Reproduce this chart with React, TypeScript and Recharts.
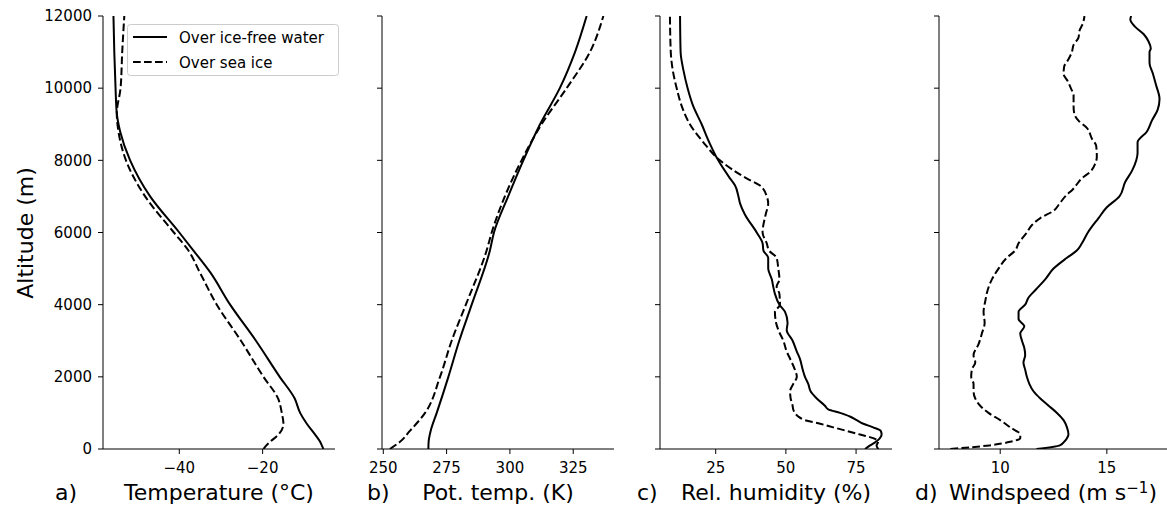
import React from "react";
import { LineChart, Line, XAxis, YAxis } from "recharts";

// altitude ticks shared by all panels
const altTicks = [0, 2000, 4000, 6000, 8000, 10000, 12000];

// a) temperature (°C)
const tempAlt = [0, 100, 200, 400, 700, 1000, 1400, 2000, 3000, 4000, 4900, 5500, 6000, 7000, 8000, 8800, 9300, 10000, 11000, 12000];
const tempWater = [-5.4, -5.8, -6.2, -7.4, -9.4, -11.0, -12.3, -15.9, -21.6, -27.8, -32.6, -36.6, -40.0, -47.0, -51.8, -54.2, -55.0, -55.3, -55.6, -55.8];
const tempIce = [-19.8, -19.1, -18.2, -16.2, -15.0, -15.4, -16.3, -19.8, -25.2, -31.0, -35.1, -37.8, -41.3, -48.2, -52.8, -54.6, -55.0, -54.1, -53.7, -53.2];

// b) potential temperature (K)
const thetaAlt = [0, 200, 500, 1000, 2000, 3000, 4000, 5500, 6000, 7000, 8000, 9000, 10000, 11000, 12000];
const thetaWater = [267.8, 267.9, 268.7, 271.1, 275.7, 280.0, 284.9, 292.1, 293.7, 299.3, 305.3, 311.9, 319.7, 325.7, 330.3];
const thetaIce = [252.6, 256.6, 260.5, 266.5, 272.4, 277.0, 282.6, 290.8, 292.8, 298.0, 304.6, 312.5, 322.4, 331.6, 336.9];

// c) relative humidity (%)
const rhAlt = [0, 100, 200, 300, 400, 500, 600, 700, 800, 900, 1000, 1100, 1200, 1400, 1600, 1800, 2000, 2200, 2500, 2700, 3000, 3300, 3500, 3800, 4000, 4300, 4500, 4700, 5000, 5300, 5500, 5700, 6000, 6500, 6800, 7000, 7300, 7500, 8000, 8500, 9000, 9500, 10000, 10500, 11000, 12000];
const rhWater = [78.2, 80.0, 82.1, 83.5, 84.1, 83.8, 81.1, 77.6, 75.2, 72.8, 69.3, 65.1, 63.9, 61.0, 58.8, 58.0, 56.8, 56.0, 55.0, 53.9, 52.4, 50.3, 50.6, 49.7, 47.7, 46.1, 45.5, 45.0, 43.7, 43.7, 42.0, 41.7, 39.6, 35.4, 33.7, 33.1, 31.9, 30.1, 25.9, 22.7, 20.0, 17.0, 15.0, 13.5, 12.5, 12.3];
const rhIce = [82.9, 82.3, 82.9, 81.1, 76.4, 71.7, 66.9, 62.2, 56.8, 54.4, 53.2, 52.6, 52.4, 51.7, 51.5, 52.6, 53.9, 53.2, 51.5, 50.3, 49.1, 47.3, 46.5, 46.1, 47.9, 47.7, 46.7, 47.7, 47.3, 46.7, 44.0, 43.2, 41.7, 42.8, 43.7, 43.2, 40.8, 36.0, 26.5, 20.6, 15.8, 12.9, 11.1, 9.7, 9.0, 8.7];

// d) windspeed (m/s)
const windWaterAlt = [0, 100, 200, 300, 400, 600, 800, 1000, 1200, 1400, 1600, 1800, 2000, 2200, 2400, 2600, 2800, 3000, 3200, 3400, 3600, 3800, 4000, 4200, 4400, 4700, 5000, 5300, 5500, 5700, 6000, 6400, 6700, 7000, 7400, 7700, 8000, 8200, 8500, 8800, 9100, 9400, 9700, 10100, 10400, 10700, 11000, 11100, 11300, 11500, 11700, 11900, 12000];
const windWater = [11.7, 12.8, 13.0, 13.13, 13.2, 13.13, 12.97, 12.66, 12.27, 11.88, 11.56, 11.37, 11.25, 11.17, 11.09, 11.17, 11.13, 11.02, 10.94, 11.13, 10.86, 10.86, 11.17, 11.33, 11.64, 12.11, 12.5, 13.13, 13.59, 13.83, 14.11, 14.61, 15.0, 15.59, 15.86, 16.17, 16.38, 16.44, 16.44, 16.88, 17.11, 17.38, 17.47, 17.3, 17.16, 17.0, 17.0, 17.06, 16.95, 16.72, 16.33, 16.1, 16.14];
const windIceAlt = [0, 100, 200, 300, 400, 600, 800, 1000, 1200, 1400, 1600, 1800, 2000, 2200, 2400, 2600, 2900, 3200, 3500, 3800, 4100, 4400, 4700, 5000, 5300, 5500, 5700, 6000, 6200, 6400, 6600, 6800, 7000, 7200, 7500, 7700, 7900, 8100, 8400, 8600, 8900, 9100, 9300, 9500, 9800, 10000, 10200, 10400, 10600, 10800, 11000, 11200, 11400, 11600, 11800, 12000];
const windIce = [7.66, 9.5, 10.47, 10.94, 10.94, 10.47, 10.0, 9.45, 9.06, 8.83, 8.75, 8.75, 8.64, 8.67, 8.83, 8.75, 8.98, 9.14, 9.27, 9.22, 9.3, 9.41, 9.61, 9.92, 10.31, 10.7, 10.86, 11.25, 11.48, 11.88, 12.5, 12.78, 13.05, 13.41, 13.83, 14.25, 14.45, 14.53, 14.5, 14.3, 14.06, 13.67, 13.47, 13.44, 13.44, 13.31, 13.16, 12.97, 13.0, 13.2, 13.36, 13.44, 13.67, 13.72, 13.88, 13.95];

const seriesNames = ["Over ice-free water", "Over sea ice"];

const FONT = "'DejaVu Sans', sans-serif";
const PLOT_TOP = 16;
const PLOT_BOTTOM = 449;
const H = 506;
const DASH = "7.7 3.3";

const rows = (alts: number[], vals: number[]) => alts.map((a, i) => ({ alt: a, v: vals[i] }));
const fmt = (v: number) => (v < 0 ? `\u2212${Math.abs(v)}` : `${v}`);

function Panel({
  plotLeft,
  plotWidth,
  domain,
  ticks,
  showY,
  water,
  ice,
}: {
  plotLeft: number;
  plotWidth: number;
  domain: [number, number];
  ticks: number[];
  showY: boolean;
  water: { alt: number; v: number }[];
  ice: { alt: number; v: number }[];
}) {
  const yw = showY ? plotLeft : 20;
  const xh = 30;
  const right = 2;
  return (
    <div style={{ position: "absolute", left: plotLeft - yw, top: 0 }}>
      <LineChart
        layout="vertical"
        width={yw + plotWidth + right}
        height={H}
        margin={{ top: PLOT_TOP, right, bottom: H - PLOT_BOTTOM - xh, left: 0 }}
      >
        <XAxis
          type="number"
          domain={domain}
          ticks={ticks}
          allowDataOverflow
          interval={0}
          height={xh}
          tickSize={5}
          tickMargin={8}
          tickFormatter={fmt}
          stroke="#000"
          tick={{ fill: "#000", fontSize: 15, fontFamily: FONT }}
        />
        <YAxis
          type="number"
          dataKey="alt"
          domain={[0, 12000]}
          ticks={altTicks}
          reversed
          allowDataOverflow
          interval={0}
          width={yw}
          tickSize={5}
          tickMargin={6}
          stroke="#000"
          tickFormatter={showY ? (v: number) => `${v}` : () => ""}
          tick={{ fill: "#000", fontSize: 15, fontFamily: FONT }}
        />
        <Line data={water} type="monotoneY" dataKey="v" name={seriesNames[0]} stroke="#000" strokeWidth={2} dot={false} activeDot={false} isAnimationActive={false} />
        <Line data={ice} type="monotoneY" dataKey="v" name={seriesNames[1]} stroke="#000" strokeWidth={2} strokeDasharray={DASH} dot={false} activeDot={false} isAnimationActive={false} />
      </LineChart>
    </div>
  );
}

const labelStyle: React.CSSProperties = {
  position: "absolute",
  top: 480,
  fontSize: 22,
  lineHeight: "26px",
  fontFamily: FONT,
  whiteSpace: "nowrap",
  color: "#000",
};

function AxisLabel({ center, children }: { center: number; children: React.ReactNode }) {
  return <div style={{ ...labelStyle, left: center, transform: "translateX(-50%)" }}>{children}</div>;
}

function Tag({ left, text }: { left: number; text: string }) {
  return <div style={{ ...labelStyle, left }}>{text}</div>;
}

export default function App() {
  return (
    <div style={{ position: "absolute", left: 0, top: 0, width: 1167, height: H, background: "#fff", overflow: "hidden" }}>
      <Panel plotLeft={103} plotWidth={232} domain={[-58.31, -2.63]} ticks={[-40, -20]} showY water={rows(tempAlt, tempWater)} ice={rows(tempAlt, tempIce)} />
      <Panel plotLeft={382} plotWidth={232} domain={[249.49, 341.1]} ticks={[250, 275, 300, 325]} showY={false} water={rows(thetaAlt, thetaWater)} ice={rows(thetaAlt, thetaIce)} />
      <Panel plotLeft={660} plotWidth={232} domain={[5.16, 87.8]} ticks={[25, 50, 75]} showY={false} water={rows(rhAlt, rhWater)} ice={rows(rhAlt, rhIce)} />
      <Panel plotLeft={939} plotWidth={228} domain={[7.13, 17.82]} ticks={[10, 15]} showY={false} water={rows(windWaterAlt, windWater)} ice={rows(windIceAlt, windIce)} />

      {/* legend */}
      <svg width={1167} height={90} style={{ position: "absolute", left: 0, top: 0, pointerEvents: "none" }}>
        <rect x={127.5} y={24.5} width={211} height={51} rx={3} fill="#fff" fillOpacity={0.8} stroke="#cccccc" />
        <line x1={133} x2={167} y1={37} y2={37} stroke="#000" strokeWidth={2} />
        <line x1={133} x2={167} y1={62} y2={62} stroke="#000" strokeWidth={2} strokeDasharray={DASH} />
        <text x={179} y={42.7} fontSize={15} fontFamily={FONT} fill="#000">{seriesNames[0]}</text>
        <text x={179} y={67.7} fontSize={15} fontFamily={FONT} fill="#000">{seriesNames[1]}</text>
      </svg>

      {/* y label */}
      <div
        style={{
          position: "absolute",
          left: 25,
          top: 232.5,
          transform: "translate(-50%, -50%) rotate(-90deg)",
          fontSize: 22,
          fontFamily: FONT,
          whiteSpace: "nowrap",
          color: "#000",
        }}
      >
        Altitude (m)
      </div>

      <Tag left={55} text="a)" />
      <AxisLabel center={219}>Temperature (°C)</AxisLabel>
      <Tag left={367} text="b)" />
      <AxisLabel center={498}>Pot. temp. (K)</AxisLabel>
      <Tag left={637} text="c)" />
      <AxisLabel center={776}>Rel. humidity (%)</AxisLabel>
      <Tag left={915} text="d)" />
      <AxisLabel center={1053}>
        Windspeed (m s<sup style={{ fontSize: 15, lineHeight: 0, verticalAlign: "7px" }}>{"\u22121"}</sup>)
      </AxisLabel>
    </div>
  );
}
